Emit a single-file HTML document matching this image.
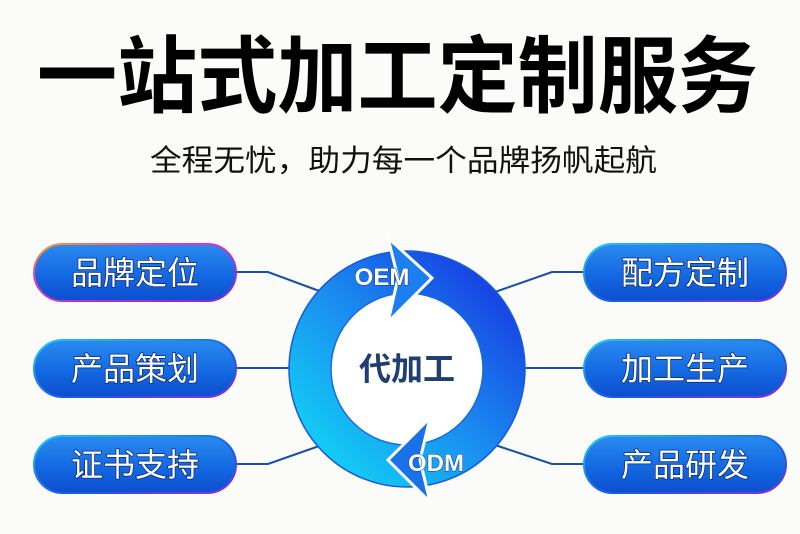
<!DOCTYPE html>
<html><head><meta charset="utf-8"><style>
html,body{margin:0;padding:0;background:#fbfbf9;}
svg{display:block;}
text{font-family:"Liberation Sans","Noto Sans CJK SC",sans-serif;}
.lbl{font-weight:bold;font-size:24px;}
</style></head><body>
<svg width="800" height="534" viewBox="0 0 800 534" xmlns="http://www.w3.org/2000/svg">
<defs>
<linearGradient id="ring" x1="0" y1="1" x2="1" y2="0">
<stop offset="0" stop-color="#11d6f5"/><stop offset="0.5" stop-color="#1a8cf0"/><stop offset="1" stop-color="#1638e0"/>
</linearGradient>
<linearGradient id="pill" x1="0" y1="0" x2="0" y2="1">
<stop offset="0" stop-color="#2a8af0"/><stop offset="0.6" stop-color="#1266e0"/><stop offset="1" stop-color="#0d4fd0"/>
</linearGradient>
<linearGradient id="rim" x1="0" y1="0" x2="1" y2="1">
<stop offset="0" stop-color="#f5a020"/><stop offset="0.3" stop-color="#e83cb0"/><stop offset="1" stop-color="#7a2ae0"/>
</linearGradient>
<linearGradient id="rim2" x1="0" y1="0" x2="1" y2="1">
<stop offset="0" stop-color="#20c8f5"/><stop offset="0.6" stop-color="#1a5ae0"/><stop offset="1" stop-color="#8a30e0"/>
</linearGradient>
</defs>
<text x="37" y="106" font-size="84" font-weight="bold" fill="#000" textLength="721" lengthAdjust="spacingAndGlyphs">一站式加工定制服务</text>
<text x="150" y="171" font-size="30" fill="#111" textLength="507" lengthAdjust="spacingAndGlyphs">全程无忧，助力每一个品牌扬帆起航</text>

<g stroke="#1a4fa8" stroke-width="2" fill="none">
<polyline points="235,272 268,272 322,292"/>
<line x1="235" y1="368" x2="292" y2="368"/>
<polyline points="235,464 268,464 322,445"/>
<polyline points="583,272 552,272 495,292"/>
<line x1="583" y1="368" x2="522" y2="368"/>
<polyline points="583,464 552,464 495,445"/>
</g>

<circle cx="407" cy="369" r="97" fill="none" stroke="url(#ring)" stroke-width="42"/>
<circle cx="407" cy="369" r="118" fill="none" stroke="#1a5ad8" stroke-width="1.5"/>
<circle cx="407" cy="369" r="76" fill="#fff" stroke="#1a6ad8" stroke-width="1.5"/>
<polygon points="388,238 432,278 388,322 398,278" fill="#1c7eef" stroke="#fff" stroke-width="3"/>
<polygon points="430,418 388,460 430,502 420,460" fill="#1a72ea" stroke="#fff" stroke-width="3"/>
<text class="lbl" x="382" y="285" fill="#fff" stroke="#123c90" stroke-width="1" paint-order="stroke" text-anchor="middle">OEM</text>
<text class="lbl" x="436" y="471" fill="#fff" stroke="#123c90" stroke-width="1" paint-order="stroke" text-anchor="middle">ODM</text>
<text x="407" y="380" font-size="32" font-weight="bold" fill="#1f3e72" text-anchor="middle">代加工</text>

<g font-size="32" fill="#fff" text-anchor="middle" stroke="#0a2a70" stroke-width="1.5" paint-order="stroke">
<rect x="35" y="245" width="200" height="55" rx="27.5" fill="url(#pill)" stroke="url(#rim)" stroke-width="4"/>
<text x="135" y="284">品牌定位</text>
<rect x="35" y="341" width="200" height="55" rx="27.5" fill="url(#pill)" stroke="url(#rim2)" stroke-width="4"/>
<text x="135" y="380">产品策划</text>
<rect x="35" y="437" width="200" height="55" rx="27.5" fill="url(#pill)" stroke="url(#rim2)" stroke-width="4"/>
<text x="135" y="476">证书支持</text>
<rect x="585" y="245" width="200" height="55" rx="27.5" fill="url(#pill)" stroke="url(#rim2)" stroke-width="4"/>
<text x="685" y="284">配方定制</text>
<rect x="585" y="341" width="200" height="55" rx="27.5" fill="url(#pill)" stroke="url(#rim2)" stroke-width="4"/>
<text x="685" y="380">加工生产</text>
<rect x="585" y="437" width="200" height="55" rx="27.5" fill="url(#pill)" stroke="url(#rim2)" stroke-width="4"/>
<text x="685" y="476">产品研发</text>
</g>
</svg>
</body></html>
